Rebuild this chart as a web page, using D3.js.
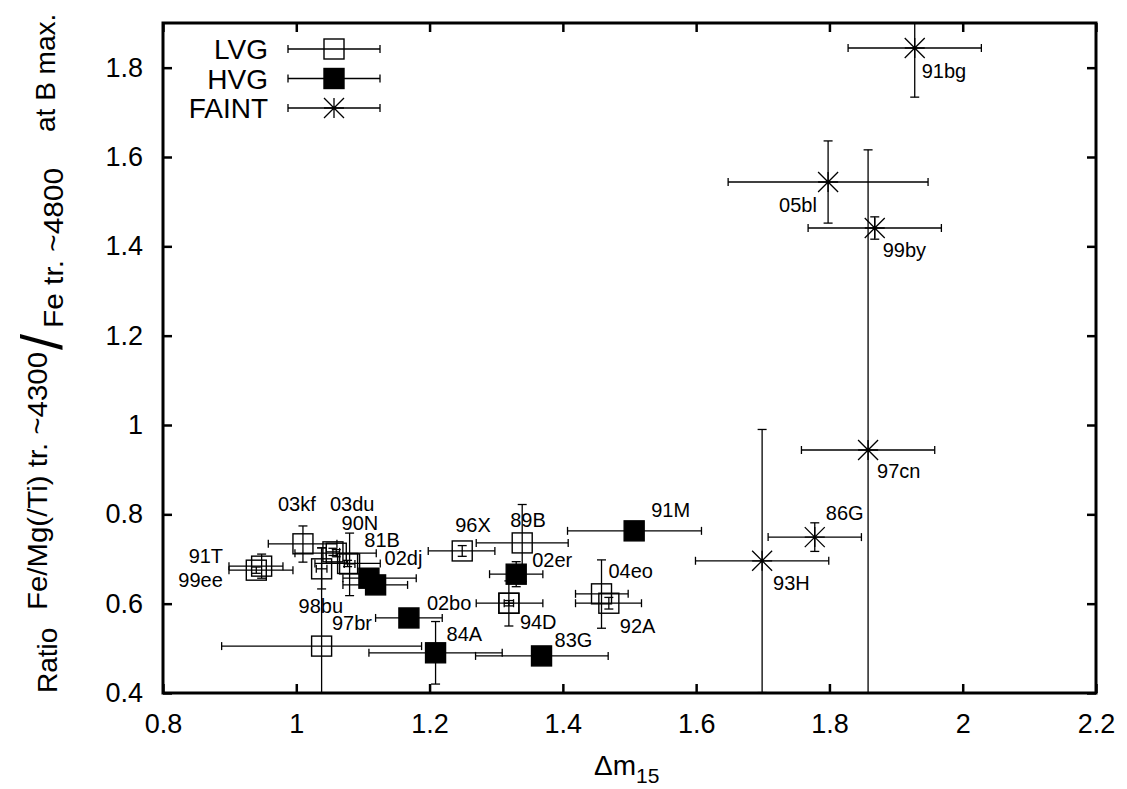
<!DOCTYPE html>
<meta charset="utf-8">
<style>
body { margin: 0; background: #fff; }
text { font-family: "Liberation Sans", Arial, sans-serif; fill: #000; }
.bars line { stroke: #000; stroke-width: 1.3px; }
.axis line { stroke: #000; stroke-width: 2.5px; }
.axis path { display: none; }
.axis text { font-size: 27px; }
.lab { font-size: 20px; }
</style>
<svg width="1127" height="789"></svg>
<script src="https://d3js.org/d3.v7.min.js"></script>
<script>

// name, dm15, ratio, dm15 low, dm15 high, ratio low, ratio high
var lvg = [
  ["03kf", 1.010, 0.734, 0.958, 1.061, 0.693, 0.774],
  ["03du", 1.055, 0.716, 1.045, 1.065, 0.708, 0.724],
  ["81B",  1.060, 0.713, 0.998, 1.120, 0.705, 0.721],
  ["90N",  1.080, 0.689, 1.072, 1.088, 0.618, 0.758],
  ["02dj", 1.077, 0.690, 1.028, 1.126, 0.683, 0.697],
  ["98bu", 1.038, 0.678, 1.030, 1.046, 0.633, 0.725],
  ["91T",  0.948, 0.684, 0.899, 0.980, 0.657, 0.711],
  ["99ee", 0.940, 0.675, 0.899, 0.995, 0.668, 0.682],
  ["",     1.038, 0.505, 0.888, 1.188, 0.285, 0.725],
  ["96X",  1.249, 0.718, 1.198, 1.298, 0.706, 0.730],
  ["89B",  1.339, 0.736, 1.270, 1.408, 0.650, 0.822],
  ["02bo", 1.319, 0.601, 1.270, 1.370, 0.595, 0.607],
  ["94D",  1.319, 0.601, 1.312, 1.326, 0.550, 0.651],
  ["04eo", 1.458, 0.622, 1.419, 1.498, 0.545, 0.698],
  ["92A",  1.469, 0.601, 1.419, 1.518, 0.588, 0.614]
];
var hvg = [
  ["91M",  1.507, 0.763, 1.407, 1.608, 0.756, 0.770],
  ["02er", 1.330, 0.666, 1.290, 1.370, 0.638, 0.694],
  ["",     1.109, 0.657, 1.070, 1.180, 0.651, 0.663],
  ["",     1.119, 0.642, 1.070, 1.167, 0.636, 0.648],
  ["97br", 1.169, 0.568, 1.119, 1.219, 0.561, 0.575],
  ["84A",  1.209, 0.490, 1.109, 1.309, 0.420, 0.560],
  ["83G",  1.368, 0.483, 1.269, 1.468, 0.477, 0.489]
];
var faint = [
  ["91bg", 1.928, 1.844, 1.828, 2.028, 1.734, 1.954],
  ["05bl", 1.798, 1.544, 1.648, 1.948, 1.452, 1.636],
  ["99by", 1.868, 1.441, 1.768, 1.968, 1.416, 1.466],
  ["97cn", 1.858, 0.944, 1.758, 1.958, 0.272, 1.616],
  ["86G",  1.778, 0.749, 1.708, 1.848, 0.717, 0.781],
  ["93H",  1.699, 0.696, 1.599, 1.799, 0.401, 0.990]
];
var xTicks = [0.8, 1, 1.2, 1.4, 1.6, 1.8, 2, 2.2];
var yTicks = [0.4, 0.6, 0.8, 1, 1.2, 1.4, 1.6, 1.8];
var legendNames = ["LVG", "HVG", "FAINT"];

// label placement relative to its point, in pixels (text start, baseline)
var labelOffsets = {
  "03kf": [-25, -33], "03du": [-3, -41], "90N": [-8, -34], "81B": [28, -6],
  "02dj": [37, 2], "98bu": [-23, 44], "97br": [-77, 12], "91T": [-73, -3],
  "99ee": [-78, 17], "96X": [-7, -19], "89B": [-12, -16], "02er": [16, -7],
  "02bo": [-82, 7], "94D": [11, 26], "84A": [11, -12], "83G": [13, -9],
  "04eo": [7, -16], "92A": [11, 30], "91M": [17, -14], "93H": [11, 29],
  "86G": [11, -17], "97cn": [9, 28], "99by": [8, 29], "05bl": [-49, 30],
  "91bg": [7, 30]
};

var svg = d3.select("svg"),
    plotL = 163, plotR = 1096, plotT = 23, plotB = 693;

var x = d3.scaleLinear().domain([0.8, 2.2]).range([plotL, plotR]);
var y = d3.scaleLinear().domain([0.4, 1.9]).range([plotB, plotT]);
var fmt = function(d) { return String(+d.toFixed(1)); };

svg.append("clipPath").attr("id", "clip")
  .append("rect").attr("x", plotL).attr("y", plotT)
  .attr("width", plotR - plotL).attr("height", plotB - plotT);

// axes with inward ticks on all four sides
svg.append("g").attr("class", "axis").attr("transform", "translate(0," + plotB + ")")
  .call(d3.axisBottom(x).tickValues(xTicks).tickSize(-9).tickPadding(21).tickFormat(fmt));
svg.append("g").attr("class", "axis").attr("transform", "translate(0," + plotT + ")")
  .call(d3.axisTop(x).tickValues(xTicks).tickSize(-9).tickFormat(""));
svg.append("g").attr("class", "axis").attr("transform", "translate(" + plotL + ",0)")
  .call(d3.axisLeft(y).tickValues(yTicks).tickSize(-9).tickPadding(20).tickFormat(fmt));
svg.append("g").attr("class", "axis").attr("transform", "translate(" + plotR + ",0)")
  .call(d3.axisRight(y).tickValues(yTicks).tickSize(-9).tickFormat(""));

function errorBars(g, cx, cy, x0, x1, y0, y1) {
  var segs = [
    [x0, cy, x1, cy], [x0, cy - 4, x0, cy + 4], [x1, cy - 4, x1, cy + 4],
    [cx, y0, cx, y1], [cx - 4.5, y0, cx + 4.5, y0], [cx - 4.5, y1, cx + 4.5, y1]
  ];
  segs.forEach(function(s) {
    g.append("line").attr("x1", s[0]).attr("y1", s[1]).attr("x2", s[2]).attr("y2", s[3]);
  });
}

function marker(g, kind, cx, cy) {
  if (kind === "star") {
    g.append("path")
      .attr("d", "M" + (cx - 10) + "," + cy + "H" + (cx + 10) +
                 "M" + cx + "," + (cy - 10) + "V" + (cy + 10) +
                 "M" + (cx - 10) + "," + (cy - 10) + "L" + (cx + 10) + "," + (cy + 10) +
                 "M" + (cx - 10) + "," + (cy + 10) + "L" + (cx + 10) + "," + (cy - 10))
      .attr("stroke", "#000").attr("stroke-width", 1.3).attr("fill", "none");
  } else {
    g.append("rect").attr("x", cx - 10).attr("y", cy - 10)
      .attr("width", 20).attr("height", 20)
      .attr("fill", kind === "filled" ? "#000" : "none")
      .attr("stroke", "#000").attr("stroke-width", 1.4);
  }
}

var plot = svg.append("g").attr("clip-path", "url(#clip)");
var series = [[lvg, "open"], [hvg, "filled"], [faint, "star"]];

series.forEach(function(s) {
  s[0].forEach(function(d) {
    var g = plot.append("g").attr("class", "bars");
    var cx = x(d[1]), cy = y(d[2]);
    errorBars(g, cx, cy, x(d[3]), x(d[4]), y(d[5]), y(d[6]));
    marker(g, s[1], cx, cy);
  });
});

series.forEach(function(s) {
  s[0].forEach(function(d) {
    if (!d[0]) return;
    var o = labelOffsets[d[0]] || [8, 25];
    svg.append("text").attr("class", "lab")
      .attr("x", x(d[1]) + o[0]).attr("y", y(d[2]) + o[1])
      .text(d[0]);
  });
});

// legend
legendNames.forEach(function(name, i) {
  var ly = 49 + i * 29.5;
  var g = svg.append("g").attr("class", "bars");
  errorBars(g, 334, ly, 288, 380, ly, ly);
  g.selectAll("line").filter(function(d, j) { return j > 2; }).remove();
  marker(g, series[i][1], 334, ly);
  svg.append("text").attr("x", 268).attr("y", ly).attr("dy", "0.36em")
    .attr("text-anchor", "end").style("font-size", "28px").text(name);
});

// frame
svg.append("rect").attr("x", plotL).attr("y", plotT)
  .attr("width", plotR - plotL).attr("height", plotB - plotT)
  .attr("fill", "none").attr("stroke", "#000").attr("stroke-width", 3);

// x label
var xl = svg.append("text").attr("x", 594).attr("y", 775).style("font-size", "28px");
xl.append("tspan").text("\u0394m");
xl.append("tspan").attr("dy", 8).style("font-size", "21px").text("15");

// y label, reads bottom to top
var yl = svg.append("g").attr("transform", "rotate(-90)");
yl.append("text").attr("x", -693).attr("y", 57).style("font-size", "28px").text("Ratio");
yl.append("text").attr("x", -610).attr("y", 47).style("font-size", "28px")
  .attr("textLength", 258).attr("lengthAdjust", "spacingAndGlyphs")
  .text("Fe/Mg(/Ti) tr. ~4300");
yl.append("text").attr("x", -350).attr("y", 62).style("font-size", "58px").text("/");
yl.append("text").attr("x", -328).attr("y", 63).style("font-size", "28px")
  .attr("textLength", 160).attr("lengthAdjust", "spacingAndGlyphs")
  .text("Fe tr. ~4800");
yl.append("text").attr("x", -132).attr("y", 55).style("font-size", "28px").text("at B max.");

</script>
